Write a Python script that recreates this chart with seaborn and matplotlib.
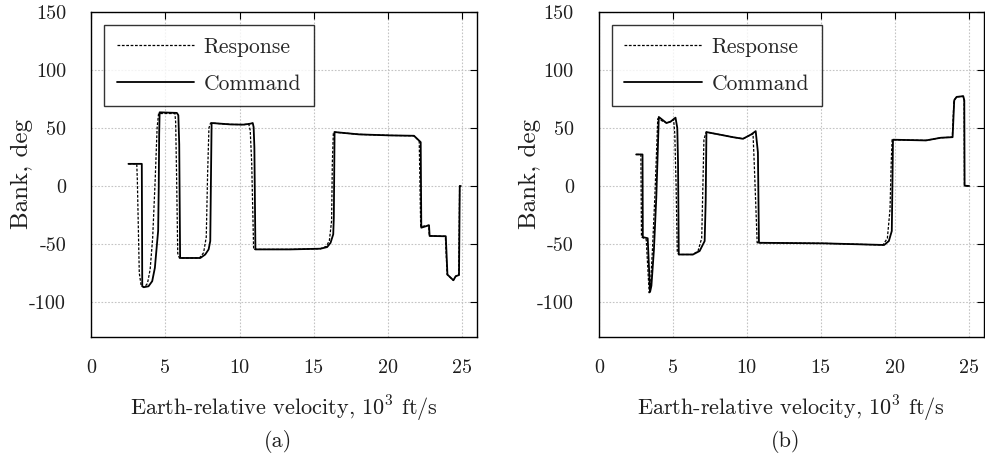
import matplotlib
matplotlib.use("Agg")
import matplotlib.pyplot as plt
import seaborn as sns
import pandas as pd

# Bank-angle histories versus Earth-relative velocity (10^3 ft/s)
# (a) first trajectory
a_cmd_vel = [2.52, 3.42, 3.45, 3.55, 3.87, 4.12, 4.30, 4.42, 4.52, 4.56, 4.59, 4.62,
             5.78, 5.88, 5.94, 6.00, 7.36, 7.69, 7.92, 8.03, 8.07, 8.12, 9.38, 10.28,
             10.73, 10.89, 10.95, 11.00, 11.07, 13.43, 15.45, 15.90, 16.13, 16.31, 16.35,
             16.40, 18.04, 20.18, 21.75, 22.20, 22.24, 22.76, 22.80, 23.89, 24.00, 24.40,
             24.56, 24.78, 24.83, 24.90]
a_cmd_bank = [19.1, 19.1, -86.4, -87.2, -86.4, -82.0, -70.5, -53.0, -38.7, -1.0, 45.0, 63.5,
              63.0, 61.0, 36.0, -62.0, -62.0, -59.0, -54.6, -47.4, -1.0, 54.3, 53.1, 52.9,
              53.7, 54.3, 50.8, 33.5, -54.6, -54.6, -54.0, -52.6, -48.9, -41.6, -27.0,
              46.5, 44.5, 43.6, 43.3, 37.8, -35.9, -33.8, -43.0, -43.3, -76.3, -81.2,
              -77.7, -76.7, 0.0, 0.0]
a_rsp_vel = [2.52, 3.08, 3.12, 3.25, 3.38, 3.60, 3.80, 3.98, 4.15, 4.32, 4.45, 4.55,
             5.65, 5.70, 5.76, 5.84, 5.95, 7.30, 7.58, 7.76, 7.85, 7.94, 8.05, 9.38,
             10.28, 10.62, 10.72, 10.82, 10.95, 13.43, 15.45, 15.85, 16.05, 16.20, 16.25,
             16.32, 18.04, 20.18, 21.72, 22.10, 22.20, 22.74, 22.78, 23.86, 23.98, 24.40,
             24.56, 24.76, 24.82, 24.90]
a_rsp_bank = [19.1, 19.1, 5.0, -75.0, -86.0, -87.0, -84.0, -72.0, -45.0, 5.0, 50.0, 62.5,
              62.5, 55.0, 10.0, -58.0, -62.0, -62.0, -57.5, -44.0, 10.0, 50.0, 54.3, 53.1,
              52.9, 53.5, 48.0, 20.0, -54.6, -54.6, -54.0, -52.0, -47.0, -30.0, 20.0,
              46.5, 44.5, 43.6, 43.3, 39.0, -35.0, -33.8, -43.0, -43.3, -76.3, -81.2,
              -77.7, -76.7, 0.0, 0.0]

# (b) second trajectory
b_cmd_vel = [2.52, 2.95, 2.97, 3.30, 3.46, 3.55, 3.72, 3.88, 3.98, 4.05, 4.57, 4.85,
             5.18, 5.30, 5.35, 5.40, 6.36, 6.81, 7.15, 7.22, 7.27, 9.06, 9.74, 10.30,
             10.60, 10.75, 10.82, 15.23, 19.28, 19.60, 19.80, 19.88, 22.11, 23.12, 23.91,
             24.02, 24.18, 24.63, 24.70, 24.72, 25.03]
b_cmd_bank = [27.2, 27.2, -44.0, -45.0, -91.3, -86.0, -55.0, -10.0, 30.0, 59.5, 54.3, 55.5,
              58.9, 50.0, 20.0, -59.0, -59.0, -56.0, -47.4, -12.7, 46.5, 42.1, 40.7, 44.5,
              47.3, 29.0, -48.9, -49.4, -50.8, -47.4, -38.7, 39.9, 39.3, 41.6, 42.1,
              73.9, 76.8, 77.4, 73.9, 0.3, 0.0]
b_rsp_vel = [2.52, 2.84, 2.88, 3.20, 3.40, 3.48, 3.62, 3.78, 3.90, 3.98, 4.57, 4.85,
             5.05, 5.13, 5.22, 5.30, 5.40, 6.36, 6.70, 6.95, 7.03, 7.10, 7.25, 9.06,
             9.74, 10.25, 10.42, 10.50, 10.70, 15.23, 19.20, 19.50, 19.68, 19.76, 19.82,
             22.11, 23.12, 23.89, 24.00, 24.18, 24.62, 24.69, 24.71, 25.03]
b_rsp_bank = [27.2, 27.2, -44.0, -46.0, -92.0, -88.0, -55.0, -10.0, 30.0, 58.0, 54.3, 55.5,
              57.5, 45.0, 0.0, -57.0, -59.0, -59.0, -56.0, -45.0, 0.0, 40.0, 46.5, 42.1,
              40.7, 44.0, 45.0, 20.0, -48.9, -49.4, -50.8, -45.0, -20.0, 20.0, 39.9,
              39.3, 41.6, 42.1, 73.9, 76.8, 77.4, 73.9, 0.3, 0.0]

x_ticks = [0, 5, 10, 15, 20, 25]
x_tick_labels = ["0", "5", "10", "15", "20", "25"]
y_ticks = [-100, -50, 0, 50, 100, 150]
y_tick_labels = ["-100", "-50", "0", "50", "100", "150"]
series_labels = ["Response", "Command"]
panel_labels = ["(a)", "(b)"]

sns.set_theme(style="white")
plt.rcParams["font.family"] = ["cmr10"]
plt.rcParams["mathtext.fontset"] = "cm"
plt.rcParams["axes.unicode_minus"] = False

TICK_FS = 14.5
XLAB_FS = 16
YLAB_FS = 18
LEG_FS = 15.5
TAG_FS = 16
TXT = "#1e1e1e"

fig = plt.figure(figsize=(9.85, 4.59), dpi=100)
ax_a = fig.add_axes([0.0924, 0.266, 0.392, 0.708])
ax_b = fig.add_axes([0.608, 0.266, 0.3905, 0.708])

panels = [
    (ax_a, a_rsp_vel, a_rsp_bank, a_cmd_vel, a_cmd_bank, panel_labels[0]),
    (ax_b, b_rsp_vel, b_rsp_bank, b_cmd_vel, b_cmd_bank, panel_labels[1]),
]

for ax, rv, rb, cv, cb, tag in panels:
    rsp = pd.DataFrame({"v": rv, "bank": rb})
    cmd = pd.DataFrame({"v": cv, "bank": cb})
    sns.lineplot(data=rsp, x="v", y="bank", ax=ax, sort=False, estimator=None,
                 color="black", lw=0.9, linestyle=(0, (2.2, 1.3)))
    sns.lineplot(data=cmd, x="v", y="bank", ax=ax, sort=False, estimator=None,
                 color="black", lw=1.3)
    ax.set_xlim(0, 26)
    ax.set_ylim(-130, 150)
    ax.set_xticks(x_ticks)
    ax.set_xticklabels(x_tick_labels)
    ax.set_yticks(y_ticks)
    ax.set_yticklabels(y_tick_labels)
    ax.tick_params(axis="both", direction="in", top=True, right=True, length=5,
                   width=0.8, color="black", labelsize=TICK_FS, labelcolor=TXT)
    ax.tick_params(axis="x", pad=16)
    ax.tick_params(axis="y", pad=18)
    ax.grid(True, ls=(0, (1.5, 1.5)), color="#c4c4c4", lw=0.8)
    for s in ax.spines.values():
        s.set_visible(True)
        s.set_color("black")
        s.set_linewidth(1.0)
    ax.set_xlabel(r"Earth-relative velocity, $10^3$ ft/s", fontsize=XLAB_FS, labelpad=12,
                  color=TXT)
    ax.set_ylabel("Bank, deg", fontsize=YLAB_FS, labelpad=-3, color=TXT)
    lines = ax.get_lines()
    leg = ax.legend(handles=[lines[0], lines[1]], labels=series_labels,
                    loc="upper left", bbox_to_anchor=(0.034, 0.96), borderaxespad=0,
                    fontsize=LEG_FS, frameon=True, fancybox=False, handlelength=3.6,
                    handletextpad=0.45, labelspacing=0.8, borderpad=0.58)
    leg.get_frame().set_edgecolor("black")
    leg.get_frame().set_linewidth(1.0)
    pos = ax.get_position()
    fig.text((pos.x0 + pos.x1) / 2 - 0.006, 0.039, tag, ha="center", va="center",
             fontsize=TAG_FS, color=TXT)

fig.savefig("out.png", dpi=100)
